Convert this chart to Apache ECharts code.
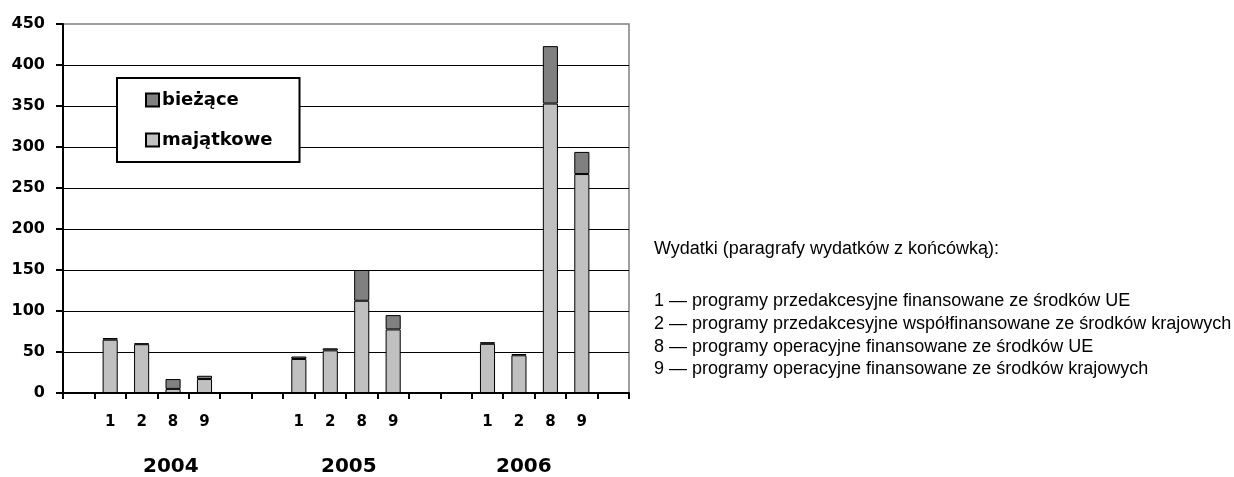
<!DOCTYPE html>
<html>
<head>
<meta charset="utf-8">
<script src="https://cdn.jsdelivr.net/npm/echarts@6/dist/echarts.min.js"></script>
<style>html,body{margin:0;padding:0;background:#fff}#c{width:1234px;height:477px}</style>
</head>
<body>
<div id="c"></div>
<script>
// ---- data ----
const years = ['2004', '2005', '2006'];
const codes = ['1', '2', '8', '9'];
const majatkowe = [
  [65, 59.5, 5, 17],      // 2004
  [41.5, 52, 112.5, 77.5],// 2005
  [60, 46, 353, 267]      // 2006
];
const biezace = [
  [2, 1, 12, 4],
  [3, 2.5, 37.5, 17.5],
  [2, 1.5, 70, 27]
];
const yTicks = [0, 50, 100, 150, 200, 250, 300, 350, 400, 450];
const noteTitle = 'Wydatki (paragrafy wydatków z końcówką):';
const noteLines = [
  '1 — programy przedakcesyjne finansowane ze środków UE',
  '2 — programy przedakcesyjne współfinansowane ze środków krajowych',
  '8 — programy operacyjne finansowane ze środków UE',
  '9 — programy operacyjne finansowane ze środków krajowych'
];

// ---- build category slots: empty, 1,2,8,9, empty, per year ----
const cats = [], labels = [], majData = [], bieData = [];
years.forEach((y, yi) => {
  cats.push(y + '-a'); labels.push(''); majData.push(null); bieData.push(null);
  codes.forEach((c, ci) => {
    cats.push(y + '-' + c); labels.push(c);
    majData.push(majatkowe[yi][ci]); bieData.push(biezace[yi][ci]);
  });
  cats.push(y + '-b'); labels.push(''); majData.push(null); bieData.push(null);
});

const chart = echarts.init(document.getElementById('c'), null, {renderer: 'canvas'});
const yearX = [171, 349, 524];
const noteFont = '18px "Liberation Sans"';
const graphics = [];
years.forEach((y, i) => graphics.push({
  type: 'text', left: yearX[i] - 28, top: 457,
  style: {text: y, font: 'bold 20px "DejaVu Sans"', fill: '#000'}
}));
graphics.push({type: 'text', left: 654, top: 240,
  style: {text: noteTitle, font: noteFont, fill: '#000'}});
noteLines.forEach((t, i) => graphics.push({type: 'text', left: 654, top: 292 + i * 22.8,
  style: {text: t, font: noteFont, fill: '#000'}}));

chart.setOption({
  animation: false,
  backgroundColor: '#fff',
  grid: {left: 63, right: 605, top: 24, bottom: 84, show: true, borderColor: '#808080', borderWidth: 1.5, backgroundColor: 'transparent'},
  legend: {
    data: ['bieżące', 'majątkowe'],
    orient: 'vertical', left: 117, top: 78,
    padding: [13, 27, 13, 28],
    itemGap: 22, itemWidth: 13, itemHeight: 13,
    backgroundColor: '#fff', borderColor: '#000', borderWidth: 2,
    icon: 'rect',
    textStyle: {fontFamily: '"DejaVu Sans"', fontWeight: 'bold', fontSize: 18, color: '#000', padding: [0, 0, 0, -2]},
    selectedMode: false
  },
  xAxis: {
    type: 'category', data: cats,
    axisLine: {lineStyle: {color: '#000', width: 2}},
    axisTick: {show: true, interval: 0, length: 6, lineStyle: {color: '#000', width: 2}},
    axisLabel: {interval: 0, margin: 22, formatter: (v, i) => labels[i],
      fontFamily: '"DejaVu Sans"', fontWeight: 'bold', fontSize: 15, color: '#000'},
    splitLine: {show: false}
  },
  yAxis: {
    type: 'value', min: 0, max: 450, interval: 50,
    axisLine: {show: true, lineStyle: {color: '#000', width: 2}},
    axisTick: {show: true, length: 7, lineStyle: {color: '#000', width: 2}},
    axisLabel: {margin: 18, fontFamily: '"DejaVu Sans"', fontWeight: 'bold', fontSize: 16, color: '#000',
      formatter: v => (yTicks.indexOf(v) >= 0 ? String(v) : '')},
    splitLine: {show: true, showMaxLine: false, lineStyle: {color: '#000', width: 1}}
  },
  series: [
    {name: 'majątkowe', type: 'bar', stack: 's', data: majData, barWidth: '48%',
      itemStyle: {color: '#c0c0c0', borderColor: '#000', borderWidth: 1}},
    {name: 'bieżące', type: 'bar', stack: 's', data: bieData, barWidth: '48%',
      itemStyle: {color: '#808080', borderColor: '#000', borderWidth: 1}}
  ],
  graphic: graphics
});
</script>
</body>
</html>
